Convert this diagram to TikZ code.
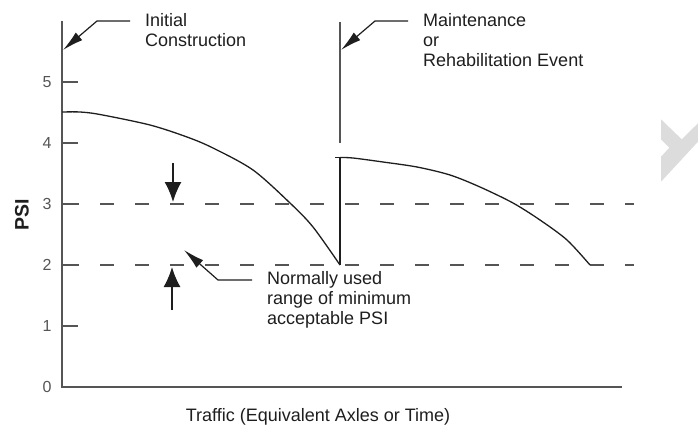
\documentclass[tikz,border=0pt]{standalone}
\usepackage{fontspec}
\setmainfont{Liberation Sans}
\usetikzlibrary{arrows.meta}

\definecolor{axisgrey}{HTML}{555555}
\definecolor{inkgrey}{HTML}{1E1E1E}
\definecolor{markgrey}{HTML}{DCDCDC}

\begin{document}
\begin{tikzpicture}[x=1pt,y=-1pt,
  axisline/.style={draw=axisgrey,line width=2pt},
  curveline/.style={draw=inkgrey,line width=1.3pt,line join=round},
  eventline/.style={draw=axisgrey,line width=1.6pt},
  limitline/.style={draw=axisgrey,line width=1.5pt,dash pattern=on 14pt off 21pt},
  tickline/.style={draw=axisgrey,line width=1.5pt},
  ticklabel/.style={inner sep=0pt,text=axisgrey,font=\fontsize{16}{18}\selectfont},
  label/.style={inner sep=0pt,anchor=north west,align=left,text=inkgrey,
                font=\fontsize{18}{20}\selectfont},
  leader/.style={draw=inkgrey,line width=1.2pt,-{Latex[length=21pt,width=10pt]}},
  rangearrow/.style={draw=inkgrey,line width=1.5pt,-{Latex[length=20pt,width=17pt]}}]

\useasboundingbox (0,0) rectangle (698,428);

% light grey chevron mark at the right edge
\fill[markgrey] (661,119.3) -- (681.7,139.3) -- (698,123.3) -- (698,141.7)
  -- (661,181.7) -- (661,156.7) -- (669.3,147.7) -- (661,139.3) -- cycle;

% axes
\coordinate (origin) at (62,387);
\coordinate (ytop) at (62,21);
\coordinate (xend) at (622,387);
\draw[axisline] (ytop) -- (origin) -- (xend);

% ticks and tick labels
\foreach \v in {1,...,5} {
  \draw[tickline] (62,387-61*\v) -- (78,387-61*\v);
}
\foreach \v in {0,...,5} {
  \node[ticklabel] (tick\v) at (47,387-61*\v) {\v};
}

\node[inner sep=0pt,rotate=90,text=inkgrey,font=\fontsize{19.5}{20}\selectfont\bfseries]
  (ylabel) at (22,215) {PSI};
\node[inner sep=0pt,anchor=base,text=inkgrey,font=\fontsize{18}{20}\selectfont]
  (xlabel) at (318,421.5) {Traffic (Equivalent Axles or Time)};

% acceptable PSI limits
\draw[limitline] (65,204) -- (634,204);
\draw[limitline] (65,265) -- (634,265);

% serviceability curves
\draw[curveline] plot[smooth,tension=0.5] coordinates {
  (62,112) (80,112) (100,114.5) (150,125) (187,137) (213,148)
  (253,170) (290,203) (313,227) (340,265)};
\draw[curveline] (340,265) -- (340,157.5) -- (335,157.5);
\draw[curveline] plot[smooth,tension=0.5] coordinates {
  (340,157.5) (353,158) (383,162) (417,167) (450,175) (480,187)
  (513,203) (540,220) (567,240) (590,265)};

% rehabilitation event marker
\coordinate (eventtop) at (340,22);
\coordinate (eventbot) at (340,143);
\draw[eventline] (eventtop) -- (eventbot);

% labels
\node[label] (init) at (145,13.5) {Initial\\Construction};
\node[label] (maint) at (423,13.5) {Maintenance\\or\\Rehabilitation Event};
\node[label] (normal) at (267,271) {Normally used\\range of minimum\\acceptable PSI};

% leaders
\coordinate (initA) at (130,21);
\coordinate (initB) at (97,21);
\coordinate (initTip) at (63,50);
\draw[leader] (initA) -- (initB) -- (initTip);

\coordinate (maintA) at (408,21);
\coordinate (maintB) at (375,21);
\coordinate (maintTip) at (341,50);
\draw[leader] (maintA) -- (maintB) -- (maintTip);

\coordinate (normA) at (252,280);
\coordinate (normB) at (218,280);
\coordinate (normTip) at (184,250);
\draw[leader] (normA) -- (normB) -- (normTip);

% range arrows
\coordinate (downTail) at (173,163);
\coordinate (downTip) at (173,202);
\coordinate (upTail) at (172,310);
\coordinate (upTip) at (172,267);
\draw[rangearrow] (downTail) -- (downTip);
\draw[rangearrow] (upTail) -- (upTip);

\end{tikzpicture}
\end{document}
